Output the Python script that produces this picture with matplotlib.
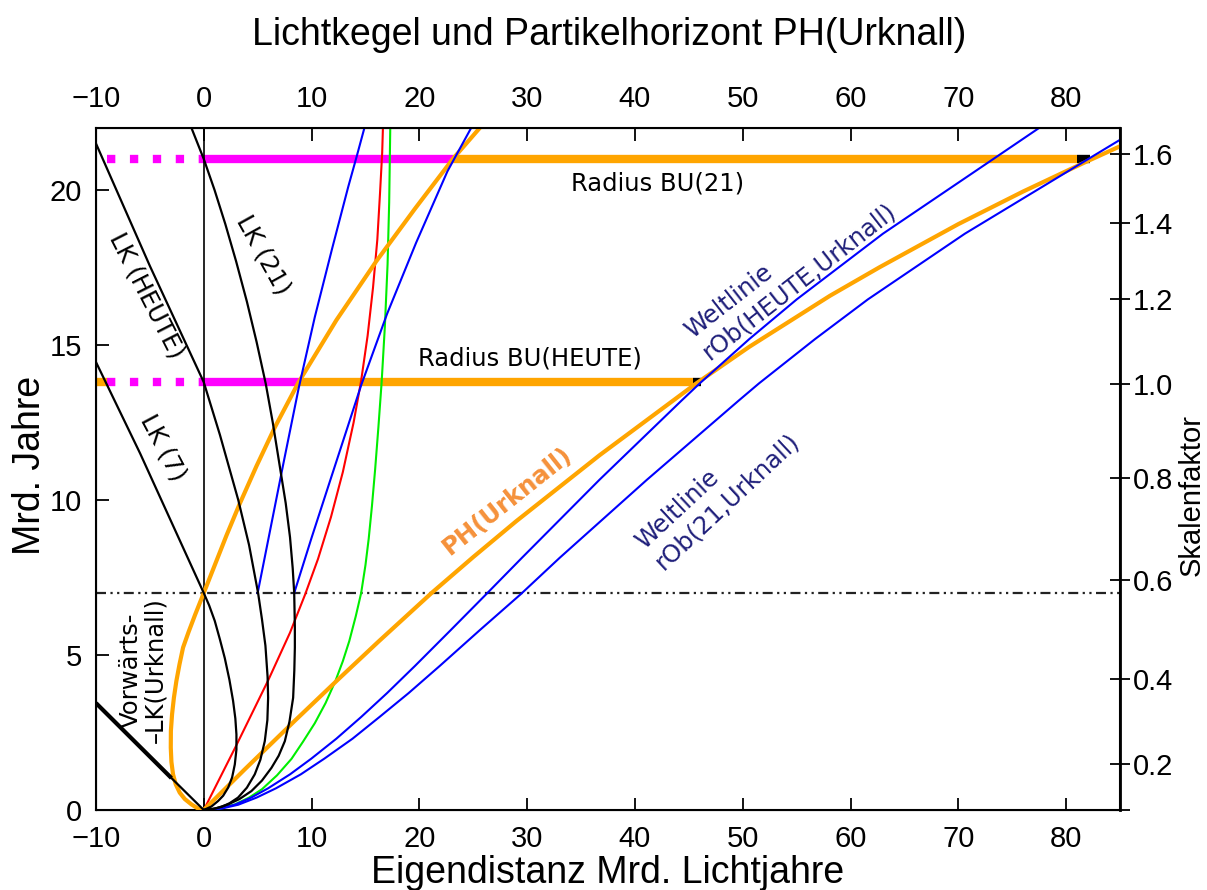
import matplotlib
matplotlib.use('Agg')
import matplotlib.pyplot as plt

# Achsen / ticks
x_ticks = [-10, 0, 10, 20, 30, 40, 50, 60, 70, 80]
y_ticks = [0, 5, 10, 15, 20]
# Skalenfaktor: position on the time axis (Mrd. Jahre) and label
sf_pos = [0.0, 1.48, 4.23, 7.42, 10.71, 13.74, 16.48, 18.94, 21.16]
sf_lab = ['', '0.2', '0.4', '0.6', '0.8', '1.0', '1.2', '1.4', '1.6']

# Lichtkegel (schwarz)
lk7_x = [-10.0, -5.9, 0.0, 0.5, 1.02, 1.5, 1.95, 2.38, 2.72, 2.93, 3.03, 3.03, 2.88, 2.63,
         2.26, 1.8, 1.33, 0.7, 0.0]
lk7_y = [14.45, 11.5, 7.0, 6.6, 6.1, 5.5, 4.9, 4.2, 3.52, 2.95, 2.44, 1.95, 1.47, 1.05,
         0.72, 0.46, 0.29, 0.11, 0.0]
lkh_x = [-10.0, -5.0, 0.0, 1.5, 3.2, 4.2, 5.04, 5.4, 5.72, 5.92, 5.97, 5.9, 5.66, 5.25,
         4.73, 4.0, 3.18, 2.4, 1.64, 0.8, 0.0]
lkh_y = [21.5, 17.55, 13.8, 12.1, 10.0, 8.55, 7.0, 6.15, 5.3, 4.3, 3.62, 2.9, 2.22, 1.62,
         1.15, 0.72, 0.4, 0.22, 0.1, 0.03, 0.0]
lk21_x = [-1.14, 0.0, 1.0, 2.0, 3.0, 4.0, 4.9, 5.75, 6.4, 7.0, 7.6, 8.0, 8.25, 8.39, 8.45,
          8.45, 8.4, 8.29, 7.95, 7.52, 6.95, 6.28, 5.4, 4.42, 3.3, 2.26, 1.1, 0.0]
lk21_y = [22.0, 21.0, 20.0, 18.9, 17.7, 16.4, 15.1, 13.75, 12.5, 11.2, 9.9, 8.8, 7.8, 7.0, 5.9,
          5.24, 4.5, 3.62, 2.85, 2.22, 1.75, 1.36, 0.95, 0.61, 0.35, 0.18, 0.05, 0.0]
vlk_x = [-10.0, -3.0, 0.0]
vlk_y = [3.45, 1.03, 0.0]

# rot / gruen
red_x = [0.0, 3.0, 6.0, 8.0, 9.4, 10.6, 11.8, 12.9, 13.9, 14.6, 15.2, 15.7, 16.1, 16.35, 16.55, 16.62]
red_y = [0.0, 2.07, 4.2, 5.72, 6.95, 8.1, 9.45, 10.9, 12.5, 13.85, 15.3, 16.85, 18.4, 19.9, 21.2, 22.0]
green_x = [0.0, 1.5, 2.88, 4.2, 5.4, 6.8, 8.14, 9.2, 10.3, 11.3, 12.2, 12.9, 13.5, 14.1, 14.6,
           15.0, 15.3, 15.6, 15.9, 16.2, 16.5, 16.8, 17.05, 17.2, 17.3]
green_y = [0.0, 0.05, 0.18, 0.4, 0.67, 1.12, 1.65, 2.2, 2.8, 3.45, 4.15, 4.8, 5.45, 6.25, 7.0,
           7.9, 8.75, 9.8, 11.0, 12.35, 13.8, 15.6, 17.6, 19.6, 22.0]

# blau, ab t=7
blueA_x = [5.0, 6.2, 7.4, 8.8, 10.3, 11.9, 13.4, 14.2, 14.9]
blueA_y = [7.0, 9.1, 11.2, 13.6, 15.9, 18.1, 20.1, 21.1, 22.0]
blueB_x = [8.39, 10.0, 11.7, 13.2, 14.6, 17.0, 19.7, 22.6, 24.8]
blueB_y = [7.0, 8.78, 10.6, 12.2, 13.7, 16.0, 18.3, 20.6, 22.0]

# Weltlinien rOb(HEUTE,Urknall), rOb(21,Urknall)
wl_h_x = [0.0, 1.5, 2.88, 4.4, 5.97, 8.0, 9.99, 12.3, 14.6, 17.0, 19.6, 22.9, 26.2, 29.5,
          36.7, 44.3, 46.0, 50.6, 55.0, 63.0, 73.2, 77.4]
wl_h_y = [0.0, 0.05, 0.17, 0.4, 0.7, 1.15, 1.66, 2.3, 3.0, 3.77, 4.65, 5.8, 6.96, 8.13,
          10.65, 13.2, 13.76, 15.19, 16.47, 18.59, 20.99, 21.98]
wl_21_x = [0.0, 1.7, 3.2, 4.9, 6.7, 9.0, 11.2, 13.8, 16.3, 19.0, 21.9, 25.6, 29.4, 33.0,
           41.1, 49.6, 51.5, 56.7, 61.6, 70.6, 82.0, 85.0]
wl_21_y = [0.0, 0.05, 0.17, 0.4, 0.7, 1.15, 1.66, 2.3, 3.0, 3.77, 4.65, 5.8, 6.96, 8.13,
           10.65, 13.2, 13.76, 15.19, 16.47, 18.59, 20.99, 21.62]

# orange: Schleife und PH(Urknall)
loop_x = [0.0, -0.5, -1.14, -1.75, -2.23, -2.6, -2.85, -3.0, -3.06, -3.05, -2.94, -2.77, -2.54,
          -2.25, -1.92, -1.4, -0.8, -0.4, 0.0, 1.0, 2.1, 3.3, 4.9, 6.6, 8.8, 12.3, 16.0, 19.6,
          23.1, 25.6]
loop_y = [0.0, 0.04, 0.18, 0.35, 0.56, 0.83, 1.15, 1.55, 2.01, 2.55, 3.09, 3.62, 4.16,
          4.7, 5.24, 5.75, 6.3, 6.65, 7.0, 7.88, 8.85, 9.85, 11.1, 12.35, 13.8, 15.8, 17.7, 19.4,
          21.0, 22.0]
ph_x = [0.0, 3.8, 8.45, 12.4, 16.2, 21.1, 25.0, 29.0, 36.7, 45.6, 50.6, 58.1, 62.7, 70.0,
        76.0, 81.6, 85.0]
ph_y = [0.0, 1.31, 2.88, 4.19, 5.43, 6.99, 8.16, 9.32, 11.44, 13.74, 14.94, 16.59, 17.51,
        18.9, 19.95, 20.87, 21.41]

# Radius BU(HEUTE), BU(21)
bar_t = [13.8, 21.0]
bar_dot_start = [-9.0, -9.0]
bar_loop = [8.8, 23.1]
bar_ph = [45.4, 81.0]
bar_end = [46.1, 82.2]
t_dash = 7.0

ORANGE = '#FFA500'
MAGENTA = '#FF00FF'
NAVY = '#1F1F7A'
TXT = 'DejaVu Sans'
AX = 'Liberation Sans'
FS = 17.5

fig = plt.figure(figsize=(12.07, 8.90), dpi=100)
ax = fig.add_axes([0.0795, 0.0899, 0.8485, 0.7663])
ax.set_xlim(-10, 85)
ax.set_ylim(0, 22)

# horizontal bars
for t, d0, xl, xp, xe in zip(bar_t, bar_dot_start, bar_loop, bar_ph, bar_end):
    ax.plot([d0, 0], [t, t], color=MAGENTA, lw=6, linestyle=(0, (1, 1.75)),
            solid_capstyle='butt', dash_capstyle='butt', zorder=2)
    ax.plot([0, xl], [t, t], color=MAGENTA, lw=6, solid_capstyle='butt', zorder=2)
    ax.plot([xl, xp], [t, t], color=ORANGE, lw=6, solid_capstyle='butt', zorder=2)
    ax.plot([xp, xe], [t, t], color='black', lw=6, solid_capstyle='butt', zorder=2)
ax.plot([-10, -9], [bar_t[0], bar_t[0]], color=ORANGE, lw=6, solid_capstyle='butt', zorder=2)

ax.axhline(t_dash, color='#222222', lw=1.6, linestyle=(0, (4.5, 2, 1, 2, 1, 2)), zorder=1)
ax.axvline(0, color='black', lw=1.2, zorder=3)

ax.plot(green_x, green_y, color='#00EE00', lw=1.5, zorder=3)
ax.plot(red_x, red_y, color='#FF0000', lw=1.5, zorder=3)
ax.plot(loop_x, loop_y, color=ORANGE, lw=3, zorder=4)
ax.plot(ph_x, ph_y, color=ORANGE, lw=3, zorder=4)
for bx, by in [(blueA_x, blueA_y), (blueB_x, blueB_y), (wl_h_x, wl_h_y), (wl_21_x, wl_21_y)]:
    ax.plot(bx, by, color='#0000FF', lw=1.5, zorder=5)
for lx, ly in [(lk7_x, lk7_y), (lkh_x, lkh_y), (lk21_x, lk21_y)]:
    ax.plot(lx, ly, color='black', lw=1.6, zorder=6)
ax.plot(vlk_x[:2], vlk_y[:2], color='black', lw=3, solid_capstyle='butt', zorder=6)
ax.plot(vlk_x[1:], vlk_y[1:], color='black', lw=1.6, zorder=6)

# Beschriftungen
ax.text(-5.3, 16.6, 'LK (HEUTE)', rotation=-63, ha='center', va='center',
        rotation_mode='anchor', fontsize=FS, family=TXT)
ax.text(5.5, 17.9, 'LK (21)', rotation=-61, ha='center', va='center',
        rotation_mode='anchor', fontsize=FS, family=TXT)
ax.text(-3.8, 11.7, 'LK (7)', rotation=-62, ha='center', va='center',
        rotation_mode='anchor', fontsize=FS, family=TXT)
ax.text(-5.6, 4.5, 'Vorwärts-\n\u2013LK(Urknall)', rotation=90, ha='center', va='center',
        rotation_mode='anchor', fontsize=FS, family=TXT, multialignment='center',
        linespacing=1.05)
ax.text(42.1, 20.2, 'Radius BU(21)', ha='center', va='center', fontsize=FS, family=TXT)
ax.text(30.3, 14.55, 'Radius BU(HEUTE)', ha='center', va='center', fontsize=FS, family=TXT)
ax.text(54.4, 17.4, 'Weltlinie\nrOb(HEUTE,Urknall)', rotation=38, ha='center', va='center',
        rotation_mode='anchor', fontsize=FS, family=TXT, color=NAVY, multialignment='left')
ax.text(47.7, 10.3, 'Weltlinie\nrOb(21,Urknall)', rotation=43, ha='center', va='center',
        rotation_mode='anchor', fontsize=FS, family=TXT, color=NAVY, multialignment='left')
ax.text(28.2, 9.97, 'PH(Urknall)', rotation=38.5, ha='center', va='center',
        rotation_mode='anchor', fontsize=FS, family=TXT, color='#F5913A', fontweight='bold')

ax.set_xticks(x_ticks)
ax.set_yticks(y_ticks)
ax.tick_params(axis='both', direction='in', length=9, width=1.3, labelsize=21)
ax.tick_params(axis='x', top=True, labeltop=True, pad=11)
ax.tick_params(axis='y', pad=10)
for lab in ax.get_xticklabels() + ax.get_yticklabels():
    lab.set_family(AX)
for sp in ax.spines.values():
    sp.set_linewidth(1.5)
ax.set_xlabel('Eigendistanz Mrd. Lichtjahre', fontsize=27, family=AX)
ax.xaxis.set_label_coords(0.5, -0.066)
ax.set_ylabel('Mrd. Jahre', fontsize=27, family=AX)
ax.yaxis.set_label_coords(-0.047, 0.505)

ax2 = ax.twinx()
ax2.set_ylim(0, 22)
ax2.set_yticks(sf_pos)
ax2.set_yticklabels(sf_lab, family=AX)
ax2.tick_params(axis='y', direction='inout', length=14, width=1.3, labelsize=21, pad=2)
ax2.spines['right'].set_linewidth(2)
ax2.set_ylabel('Skalenfaktor', fontsize=21, family=AX)
ax2.yaxis.set_label_coords(1.056, 0.462)

fig.text(0.505, 0.961, 'Lichtkegel und Partikelhorizont PH(Urknall)', ha='center', va='center',
         fontsize=27, family=AX)

fig.savefig('out.png', dpi=100)
